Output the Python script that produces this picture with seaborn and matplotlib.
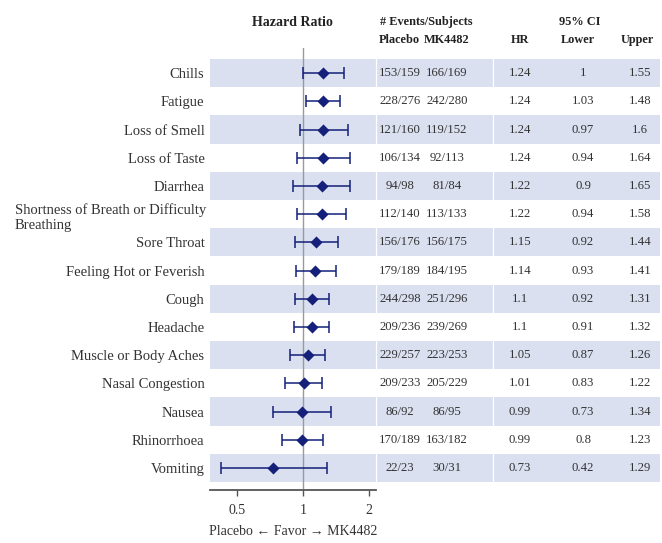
import numpy as np
import pandas as pd
import matplotlib
matplotlib.use('Agg')
import matplotlib.pyplot as plt
import matplotlib.transforms as mtransforms
import seaborn as sns

# Datos
symptoms = ['Chills', 'Fatigue', 'Loss of Smell', 'Loss of Taste', 'Diarrhea',
            'Shortness of Breath or Difficulty\nBreathing', 'Sore Throat',
            'Feeling Hot or Feverish', 'Cough', 'Headache', 'Muscle or Body Aches',
            'Nasal Congestion', 'Nausea', 'Rhinorrhoea', 'Vomiting']
placebo = ['153/159', '228/276', '121/160', '106/134', '94/98', '112/140', '156/176',
           '179/189', '244/298', '209/236', '229/257', '209/233', '86/92', '170/189', '22/23']
mk4482 = ['166/169', '242/280', '119/152', '92/113', '81/84', '113/133', '156/175',
          '184/195', '251/296', '239/269', '223/253', '205/229', '86/95', '163/182', '30/31']
hr = [1.24, 1.24, 1.24, 1.24, 1.22, 1.22, 1.15, 1.14, 1.1, 1.1, 1.05, 1.01, 0.99, 0.99, 0.73]
lower = [1, 1.03, 0.97, 0.94, 0.9, 0.94, 0.92, 0.93, 0.92, 0.91, 0.87, 0.83, 0.73, 0.8, 0.42]
upper = [1.55, 1.48, 1.6, 1.64, 1.65, 1.58, 1.44, 1.41, 1.31, 1.32, 1.26, 1.22, 1.34, 1.23, 1.29]
ticks = [0.5, 1, 2]

df = pd.DataFrame({'symptom': symptoms, 'placebo': placebo, 'mk4482': mk4482,
                   'hr': hr, 'lower': lower, 'upper': upper})
df['row'] = np.arange(len(df))

sns.set_theme(style='white')
plt.rcParams['font.family'] = ['Liberation Serif', 'DejaVu Serif']
txt_color = '#333333'
navy = '#14207a'
band_color = '#dae0f0'

W, H = 662, 543
fig = plt.figure(figsize=(W / 100, H / 100), dpi=100)

# posiciones en pixeles
top_px, bot_px = 48, 490
y_lim = (len(df) - 1 + 0.78, -0.89)

# Fondo con bandas alternadas
bg = fig.add_axes([210 / W, 1 - bot_px / H, (660 - 210) / W, (bot_px - top_px) / H])
bg.set_xlim(0, 1)
bg.set_ylim(*y_lim)
for r in df['row'][::2]:
    bg.axhspan(r - 0.5, r + 0.5, color=band_color, lw=0)
for xg in [(376 - 210) / 450, (493 - 210) / 450]:
    bg.axvline(xg, color='white', lw=0.9)
bg.axis('off')

# Forest plot
ax = fig.add_axes([210 / W, 1 - bot_px / H, (376 - 210) / W, (bot_px - top_px) / H])
ax.patch.set_alpha(0)
ax.set_xscale('log')
ax.axvline(1, color='#9a9a9a', lw=1, zorder=1)
ax.errorbar(df['hr'], df['row'], xerr=[df['hr'] - df['lower'], df['upper'] - df['hr']],
            fmt='none', ecolor=navy, elinewidth=1.1, capsize=4.5, capthick=1.1, zorder=2)
sns.scatterplot(data=df, x='hr', y='row', marker='D', color=navy, s=38,
                edgecolor=navy, linewidth=0, ax=ax, zorder=3, legend=False)
ax.set_xlim(0.376, 2.16)
ax.set_ylim(*y_lim)
ax.set_xticks(ticks)
ax.set_xticklabels(['0.5', '1', '2'])
ax.minorticks_off()
ax.set_yticks(df['row'])
# la etiqueta de dos lineas se escribe aparte
ax.set_yticklabels([s if '\n' not in s else '' for s in df['symptom']])
ax.tick_params(axis='y', length=0, pad=4, labelsize=10.5, labelcolor=txt_color)
ax.tick_params(axis='x', length=4, width=1, color='#555555', direction='out', pad=6,
               labelsize=10, labelcolor=txt_color, bottom=True)
for s in ['top', 'right', 'left']:
    ax.spines[s].set_visible(False)
ax.spines['bottom'].set_color('#555555')
ax.spines['bottom'].set_linewidth(1.3)
ax.set_xlabel('Placebo \u2190 Favor \u2192 MK4482', fontsize=10, color=txt_color, labelpad=6)
ax.set_ylabel('')

trans = mtransforms.blended_transform_factory(fig.transFigure, ax.transData)
for r, s in zip(df['row'], df['symptom']):
    if '\n' in s:
        ax.text(206 / W, r + 0.12, s, transform=trans, ha='right', va='center',
                multialignment='left', linespacing=1.15, fontsize=10.5,
                color=txt_color, clip_on=False)

# Tabla
cols = [('placebo', 400, 'center'), ('mk4482', 447, 'center'), ('hr', 520, 'center'),
        ('lower', 583, 'center'), ('upper', 640, 'center')]
for key, xp, ha in cols:
    for r, v in zip(df['row'], df[key]):
        ax.text(xp / W, r, f'{v:g}' if not isinstance(v, str) else v, transform=trans,
                ha=ha, va='center', fontsize=9.2, color=txt_color, clip_on=False)

# Encabezados
hdr = dict(fontsize=8.8, fontweight='bold', color='#222222', va='center')
fig.text(292 / W, 1 - 22 / H, 'Hazard Ratio', ha='center', **dict(hdr, fontsize=10))
fig.text(380 / W, 1 - 22 / H, '# Events/Subjects', ha='left', **hdr)
fig.text(399 / W, 1 - 40 / H, 'Placebo', ha='center', **hdr)
fig.text(447 / W, 1 - 40 / H, 'MK4482', ha='center', **hdr)
fig.text(520 / W, 1 - 40 / H, 'HR', ha='center', **hdr)
fig.text(580 / W, 1 - 22 / H, '95% CI', ha='center', **hdr)
fig.text(578 / W, 1 - 40 / H, 'Lower', ha='center', **hdr)
fig.text(637 / W, 1 - 40 / H, 'Upper', ha='center', **hdr)

fig.savefig('out.png', dpi=100)
